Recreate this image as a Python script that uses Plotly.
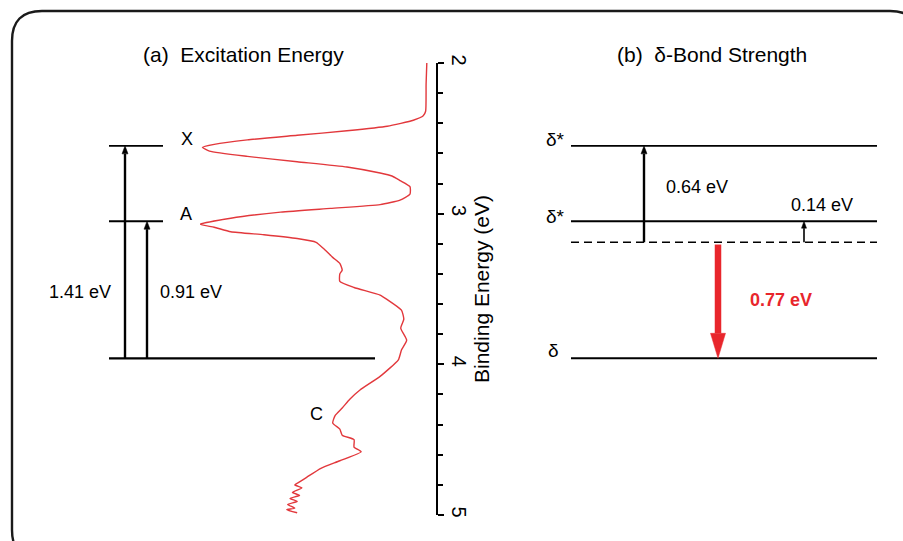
import plotly.graph_objects as go

# ---------------- data ----------------
# photoelectron spectrum (binding energy in eV, relative intensity)
spec_energy = [2.00, 2.14, 2.32, 2.35, 2.38, 2.42, 2.45, 2.48, 2.51, 2.54, 2.56, 2.585,
               2.62, 2.655, 2.69, 2.73, 2.75, 2.78, 2.82, 2.87, 2.91, 2.94, 2.965, 2.99,
               3.03, 3.07, 3.09, 3.12, 3.14, 3.165, 3.19, 3.23, 3.29, 3.33, 3.375, 3.40,
               3.45, 3.49, 3.54, 3.57, 3.64, 3.70, 3.76, 3.84, 3.905, 3.97, 4.08, 4.17,
               4.23, 4.29, 4.34, 4.39, 4.43, 4.47, 4.50, 4.55, 4.58, 4.64, 4.69, 4.75,
               4.78, 4.80, 4.82, 4.85, 4.87, 4.89, 4.91, 4.93, 4.955, 4.965, 4.985]
spec_intensity = [0.043, 0.046, 0.048, 0.058, 0.10, 0.21, 0.38, 0.59, 0.80, 0.94, 0.99, 0.96,
                  0.80, 0.59, 0.38, 0.24, 0.19, 0.156, 0.114, 0.114, 0.156, 0.24, 0.45, 0.66,
                  0.87, 1.00, 0.94, 0.87, 0.73, 0.59, 0.51, 0.48, 0.44, 0.41, 0.40, 0.41,
                  0.41, 0.35, 0.24, 0.21, 0.15, 0.14, 0.153, 0.128, 0.15, 0.163, 0.24, 0.325,
                  0.367, 0.40, 0.43, 0.44, 0.41, 0.40, 0.35, 0.35, 0.32, 0.41, 0.49, 0.55,
                  0.58, 0.60, 0.57, 0.61, 0.58, 0.62, 0.59, 0.63, 0.60, 0.634, 0.59]

# energy levels (binding energy, eV)
level_X = 2.55
level_A = 3.05
level_ground = 3.96
gap_X = 1.41        # ground -> X
gap_A = 0.91        # ground -> A
gap_top = 0.64      # dashed -> upper delta*
gap_small = 0.14    # dashed -> lower delta*
gap_bond = 0.77     # dashed -> delta
level_dashed = level_ground - gap_bond

y_ticks = [2, 3, 4, 5]
axis_title = "Binding Energy (eV)"
title_a = "(a)  Excitation Energy"
title_b = "(b)  δ-Bond Strength"

# ---------------- layout constants ----------------
W, H = 903, 541
MT, MB = 63, 26
FONT = "Liberation Sans, Arial, Helvetica, sans-serif"
RED = "#e8262c"
SPEC_RED = "#e2383c"
AX_X = 437  # axis position (diagram units == px across)
FS = 18     # label font size
FT = 21     # title font size

fig = go.Figure()

fig.add_trace(go.Scatter(
    x=spec_intensity, y=spec_energy, mode="lines",
    line=dict(color=SPEC_RED, width=1.4, shape="spline", smoothing=0.5),
    xaxis="x2", yaxis="y", hoverinfo="skip", showlegend=False, cliponaxis=False))

shapes = []
annots = []

def hline(x0, x1, y, width=1.9, dash=None):
    shapes.append(dict(type="line", xref="x", yref="y", x0=x0, x1=x1, y0=y, y1=y,
                       line=dict(color="black", width=width, dash=dash)))

px_per_ev = (H - MT - MB) / 3.0

def arrow(x, y_from, y_to, color="black", width=2.4, head_len=8, head_w=6, gap=0.0):
    direction = 1 if y_to > y_from else -1
    hl = head_len / px_per_ev
    base = y_to - direction * hl
    shapes.append(dict(type="line", xref="x", yref="y", x0=x, x1=x,
                       y0=y_from + direction * gap, y1=base,
                       line=dict(color=color, width=width)))
    shapes.append(dict(type="path", xref="x", yref="y",
                       path=f"M {x - head_w/2},{base} L {x},{y_to} L {x + head_w/2},{base} Z",
                       fillcolor=color, line=dict(color=color, width=0.5)))

def text(x, y, s, size=FS, color="black", bold=False, yref="y"):
    annots.append(dict(x=x, y=y, xref="x", yref=yref, text=f"<b>{s}</b>" if bold else s,
                       xanchor="center", yanchor="middle",
                       showarrow=False, font=dict(family=FONT, size=size, color=color)))

# panel (a) levels
hline(109, 163, level_X)
hline(109, 163, level_A)
hline(109, 375, level_ground, width=2.3)
arrow(125, level_ground, level_ground - gap_X)
arrow(147, level_ground, level_ground - gap_A)
text(80, 3.52, f"{gap_X:.2f} eV")
text(191, 3.52, f"{gap_A:.2f} eV")
text(187, level_X - 0.045, "X")
text(186, level_A - 0.045, "A")
text(316, 4.33, "C")

# panel (b) levels
hline(571, 877, level_dashed - gap_top)
hline(571, 877, level_dashed - gap_small)
hline(571, 877, level_dashed, width=1.6, dash="8px,5px")
hline(571, 877, level_ground)
arrow(644, level_dashed, level_dashed - gap_top)
arrow(804, level_dashed, level_dashed - gap_small, head_len=7, head_w=5, width=1.6)
arrow(718, level_dashed, level_ground, color=RED, width=6.5, head_len=25, head_w=15, gap=0.015)
text(697, level_dashed - gap_top + 0.275, f"{gap_top:.2f} eV")
text(822, level_dashed - gap_small - 0.11, f"{gap_small:.2f} eV")
text(781, level_dashed + 0.385, f"{gap_bond:.2f} eV", color=RED, bold=True)
text(555, level_dashed - gap_top - 0.04, "δ*", size=19)
text(555, level_dashed - gap_small - 0.03, "δ*", size=19)
text(553, level_ground - 0.055, "δ", size=19)

# titles
def py_to_paper(py):
    return (H - MB - py) / (H - MT - MB)

text(243, py_to_paper(55), title_a, size=FT, yref="paper")
text(712, py_to_paper(55), title_b, size=FT, yref="paper")

# rounded border (decorative frame), paper coords
def P(px, py):
    return f"{px / W},{py_to_paper(py)}"

L_, T_, R_, B_, r = 12, 11, 920, 560, 30
border = (f"M {P(L_, T_ + r)} Q {P(L_, T_)} {P(L_ + r, T_)} L {P(R_ - r, T_)} "
          f"Q {P(R_, T_)} {P(R_, T_ + r)} L {P(R_, B_ - r)} Q {P(R_, B_)} {P(R_ - r, B_)} "
          f"L {P(L_ + r, B_)} Q {P(L_, B_)} {P(L_, B_ - r)} Z")
shapes.append(dict(type="path", xref="paper", yref="paper", path=border,
                   line=dict(color="#1a1a1a", width=2.4)))

fig.update_layout(
    width=W, height=H,
    margin=dict(l=0, r=0, t=MT, b=MB, pad=0),
    paper_bgcolor="white", plot_bgcolor="rgba(0,0,0,0)",
    font=dict(family=FONT, size=FS, color="black"),
    showlegend=False,
    shapes=shapes, annotations=annots,
    xaxis=dict(range=[0, W], domain=[0, 1], visible=False, fixedrange=True),
    xaxis2=dict(range=[1.0, 0.0], domain=[200 / W, AX_X / W], visible=False,
                anchor="y"),
    yaxis=dict(range=[5, 2], anchor="free", position=AX_X / W, side="right",
               showline=True, linecolor="black", linewidth=1.6,
               ticks="outside", ticklen=6, tickwidth=1.6, tickcolor="black",
               tickvals=y_ticks, ticktext=[str(v) for v in y_ticks], tickangle=90,
               tickfont=dict(family=FONT, size=20, color="black"),
               minor=dict(dtick=0.2, tick0=2, ticks="outside", ticklen=5, tickwidth=1.5,
                          tickcolor="black", showgrid=False),
               showgrid=False, zeroline=False,
               title=dict(text=axis_title, font=dict(family=FONT, size=FT), standoff=5)),
)

fig.write_html("out.html", config={"displayModeBar": False},
               post_script="document.body.style.margin='0px';")
